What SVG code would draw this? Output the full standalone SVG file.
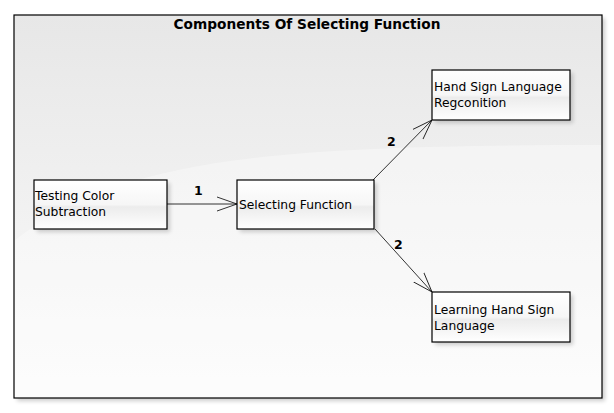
<svg xmlns="http://www.w3.org/2000/svg" width="614" height="413" viewBox="0 0 614 413">
<style>
.node rect.b{fill:url(#ng);stroke:#000;stroke-width:1.2}
.node rect.s{fill:#000;opacity:0.18;filter:url(#blur)}
.node text{font-family:"DejaVu Sans",Verdana,sans-serif;font-size:12.3px;fill:#000}
.edge{stroke:#000;stroke-width:0.8;fill:none;marker-end:url(#arr)}
.lbl{font-family:"DejaVu Sans",Verdana,sans-serif;font-size:12.5px;font-weight:bold;fill:#000}
</style>
<defs>
<linearGradient id="bg" x1="0" y1="0" x2="0" y2="1">
<stop offset="0" stop-color="#e7e7e7"/>
<stop offset="1" stop-color="#fbfbfb"/>
</linearGradient>
<linearGradient id="ng" x1="0" y1="0" x2="0" y2="1">
<stop offset="0" stop-color="#ffffff"/>
<stop offset="0.5" stop-color="#f6f6f6"/>
<stop offset="0.55" stop-color="#ececec"/>
<stop offset="1" stop-color="#ffffff"/>
</linearGradient>
<filter id="blur" x="-10%" y="-10%" width="120%" height="130%"><feGaussianBlur stdDeviation="2"/></filter>
<marker id="arr" viewBox="0 0 20 20" refX="20" refY="10" markerWidth="20" markerHeight="20" markerUnits="userSpaceOnUse" orient="auto">
<path d="M0,3 L20,10 L0,17" fill="none" stroke="#000" stroke-width="0.8"/>
</marker>
</defs>
<rect x="0" y="0" width="614" height="413" fill="#fff"/>
<rect x="17" y="18" width="588" height="383" fill="#000" opacity="0.2" filter="url(#blur)"/>
<rect x="14" y="15" width="588" height="383" fill="url(#bg)"/>
<path d="M15,240 C120,160 260,145 601,145 L601,397 L15,397 Z" fill="#fff" opacity="0.35"/>
<rect x="14" y="15" width="588" height="383" fill="none" stroke="#000" stroke-width="1.2"/>
<text x="307" y="29" text-anchor="middle" font-family="'DejaVu Sans',Verdana,sans-serif" font-size="13.7" font-weight="bold">Components Of Selecting Function</text>
<g id="connectors">
<path class="edge" d="M167,204 L237,204"/>
<text class="lbl" x="194" y="195">1</text>
<path class="edge" d="M373,180 L432,120"/>
<text class="lbl" x="387" y="146">2</text>
<path class="edge" d="M375,229 L432,292"/>
<text class="lbl" x="394" y="249">2</text>
</g>
<g id="n1" class="node">
<rect class="s" x="37" y="183" width="133" height="49"/>
<rect class="b" x="34" y="180" width="133" height="49"/>
<text x="35" y="200">Testing Color</text>
<text x="35" y="216">Subtraction</text>
</g>
<g id="n2" class="node">
<rect class="s" x="240" y="183" width="137" height="49"/>
<rect class="b" x="237" y="180" width="137" height="49"/>
<text x="239" y="209">Selecting Function</text>
</g>
<g id="n3" class="node">
<rect class="s" x="435" y="73" width="138" height="50"/>
<rect class="b" x="432" y="70" width="138" height="50"/>
<text x="434" y="91">Hand Sign Language</text>
<text x="434" y="107">Regconition</text>
</g>
<g id="n4" class="node">
<rect class="s" x="435" y="295" width="138" height="50"/>
<rect class="b" x="432" y="292" width="138" height="50"/>
<text x="434" y="314">Learning Hand Sign</text>
<text x="434" y="330">Language</text>
</g>
</svg>
